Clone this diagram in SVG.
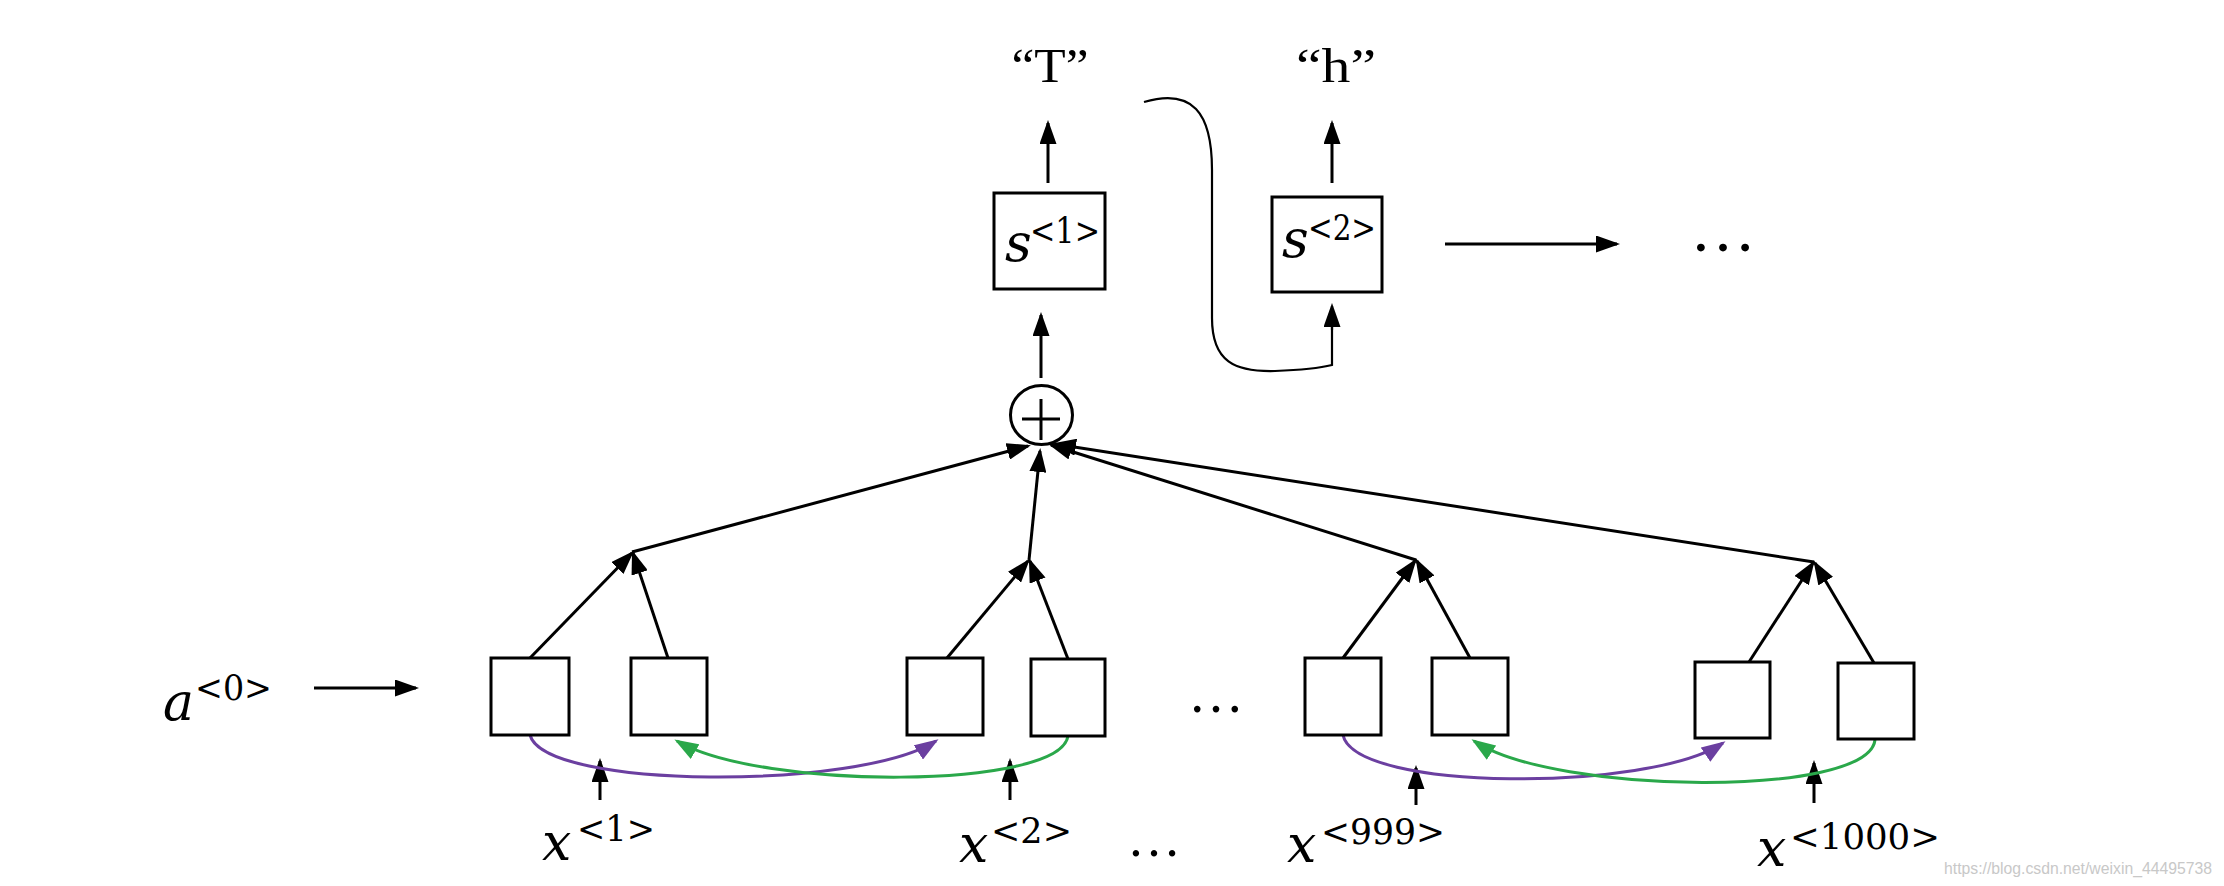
<svg xmlns="http://www.w3.org/2000/svg" width="2224" height="886" viewBox="0 0 2224 886">
<style>
.box{fill:#fff;stroke:#000;stroke-width:3}
.ln{fill:none;stroke:#000;stroke-width:3;marker-end:url(#ah)}
.thin{fill:none;stroke:#000;stroke-width:2.2}
.pu{fill:none;stroke:#6B3FA0;stroke-width:3;marker-end:url(#ahp)}
.gr{fill:none;stroke:#2AA84A;stroke-width:3;marker-end:url(#ahg)}
.m{font-family:"DejaVu Serif","Liberation Serif",serif;font-style:italic;font-size:52px;fill:#000}
.sup{font-family:"DejaVu Serif","Liberation Serif",serif;font-size:36px;fill:#000}
.q{font-family:"Liberation Serif","Times New Roman",serif;font-size:48px;fill:#000}
.dots{font-family:"Liberation Serif",serif;fill:#000}
.wm{font-family:"Liberation Sans",Arial,sans-serif;font-size:16px;fill:#c8c8c8}
</style>
<defs>
<marker id="ah" viewBox="0 0 24 17" refX="21" refY="8.5" markerWidth="24" markerHeight="17" markerUnits="userSpaceOnUse" orient="auto"><path d="M0,0 L24,8.5 L0,17 z" fill="#000"/></marker>
<marker id="ahp" viewBox="0 0 24 17" refX="21" refY="8.5" markerWidth="24" markerHeight="17" markerUnits="userSpaceOnUse" orient="auto"><path d="M0,0 L24,8.5 L0,17 z" fill="#6B3FA0"/></marker>
<marker id="ahg" viewBox="0 0 24 17" refX="21" refY="8.5" markerWidth="24" markerHeight="17" markerUnits="userSpaceOnUse" orient="auto"><path d="M0,0 L24,8.5 L0,17 z" fill="#2AA84A"/></marker>
</defs>
<rect width="2224" height="886" fill="#fff"/>

<g id="connectors">
  <line class="ln" x1="314" y1="688" x2="416" y2="688"/>
  <line class="ln" x1="600" y1="800" x2="600" y2="761"/>
  <line class="ln" x1="1010" y1="800" x2="1010" y2="761"/>
  <line class="ln" x1="1416" y1="805" x2="1416" y2="768"/>
  <line class="ln" x1="1814" y1="803" x2="1814" y2="763"/>
  <line class="ln" x1="530" y1="658" x2="632" y2="553"/>
  <line class="ln" x1="668" y1="658" x2="633" y2="553"/>
  <line class="ln" x1="947" y1="658" x2="1028" y2="561"/>
  <line class="ln" x1="1068" y1="659" x2="1030" y2="561"/>
  <line class="ln" x1="1343" y1="658" x2="1415" y2="561"/>
  <line class="ln" x1="1470" y1="658" x2="1417" y2="561"/>
  <line class="ln" x1="1749" y1="662" x2="1813" y2="563"/>
  <line class="ln" x1="1874" y1="663" x2="1815" y2="563"/>
  <line class="ln" x1="632" y1="552" x2="1028" y2="446"/>
  <line class="ln" x1="1029" y1="560" x2="1040" y2="451"/>
  <line class="ln" x1="1416" y1="560" x2="1051" y2="445"/>
  <line class="ln" x1="1814" y1="562" x2="1055" y2="444"/>
  <line class="ln" x1="1041" y1="378" x2="1041" y2="315"/>
  <line class="ln" x1="1048" y1="183" x2="1048" y2="123"/>
  <line class="ln" x1="1332" y1="183" x2="1332" y2="123"/>
  <path class="thin" d="M1144,102 C1192,88 1212,112 1212,170 L1212,318 C1212,362 1235,372 1275,371 C1300,370 1320,368 1332,365 L1332,312"/>
  <line class="ln" x1="1332" y1="330" x2="1332" y2="306" style="stroke-width:2.2"/>
  <line class="ln" x1="1445" y1="244" x2="1617" y2="244"/>
  <path class="pu" d="M530,735 C545,790 860,790 936,741"/>
  <path class="gr" d="M1068,736 C1060,790 760,790 677,741"/>
  <path class="pu" d="M1343,735 C1355,792 1650,792 1723,743"/>
  <path class="gr" d="M1875,740 C1868,798 1555,795 1474,741"/>
</g>

<g id="n_a0"><text class="m" x="163" y="720">a</text><text class="sup" x="195" y="700" textLength="77" lengthAdjust="spacingAndGlyphs">&lt;0&gt;</text></g>

<g id="n_b1"><rect class="box" x="491" y="658" width="78" height="77"/></g>
<g id="n_b2"><rect class="box" x="631" y="658" width="76" height="77"/></g>
<g id="n_b3"><rect class="box" x="907" y="658" width="76" height="77"/></g>
<g id="n_b4"><rect class="box" x="1031" y="659" width="74" height="77"/></g>
<g id="n_b5"><rect class="box" x="1305" y="658" width="76" height="77"/></g>
<g id="n_b6"><rect class="box" x="1432" y="658" width="76" height="77"/></g>
<g id="n_b7"><rect class="box" x="1695" y="662" width="75" height="76"/></g>
<g id="n_b8"><rect class="box" x="1838" y="663" width="76" height="76"/></g>

<g id="n_sum">
  <ellipse cx="1041.5" cy="415" rx="31" ry="29.5" fill="#fff" stroke="#000" stroke-width="3"/>
  <line x1="1022" y1="419" x2="1060" y2="419" stroke="#000" stroke-width="3"/>
  <line x1="1041" y1="399" x2="1041" y2="440" stroke="#000" stroke-width="3"/>
</g>

<g id="n_s1"><rect class="box" x="994" y="193" width="111" height="96"/><text class="m" x="1005" y="261">s</text><text class="sup" x="1030" y="243" textLength="70" lengthAdjust="spacingAndGlyphs">&lt;1&gt;</text></g>
<g id="n_s2"><rect class="box" x="1272" y="197" width="110" height="95"/><text class="m" x="1282" y="257">s</text><text class="sup" x="1308" y="240" textLength="68" lengthAdjust="spacingAndGlyphs">&lt;2&gt;</text></g>

<g id="n_T"><text class="q" x="1050" y="82" text-anchor="middle" textLength="77" lengthAdjust="spacingAndGlyphs">“T”</text></g>
<g id="n_h"><text class="q" x="1336" y="82" text-anchor="middle" textLength="80" lengthAdjust="spacingAndGlyphs">“h”</text></g>

<g id="n_dots_top"><text class="dots" x="1690" y="251" font-size="66">…</text></g>
<g id="n_dots_mid"><text class="dots" x="1188" y="712" font-size="56">…</text></g>
<g id="n_dots_bot"><text class="dots" x="1127" y="856" font-size="54">…</text></g>

<g id="n_x1"><text class="m" x="542" y="860">x</text><text class="sup" x="577" y="841" textLength="78" lengthAdjust="spacingAndGlyphs">&lt;1&gt;</text></g>
<g id="n_x2"><text class="m" x="959" y="862">x</text><text class="sup" x="991" y="843" textLength="81" lengthAdjust="spacingAndGlyphs">&lt;2&gt;</text></g>
<g id="n_x999"><text class="m" x="1287" y="862">x</text><text class="sup" x="1321" y="844" textLength="124" lengthAdjust="spacingAndGlyphs">&lt;999&gt;</text></g>
<g id="n_x1000"><text class="m" x="1757" y="866">x</text><text class="sup" x="1790" y="849" textLength="150" lengthAdjust="spacingAndGlyphs">&lt;1000&gt;</text></g>

<text class="wm" x="1944" y="874" textLength="268" lengthAdjust="spacingAndGlyphs">https://blog.csdn.net/weixin_44495738</text>
</svg>
